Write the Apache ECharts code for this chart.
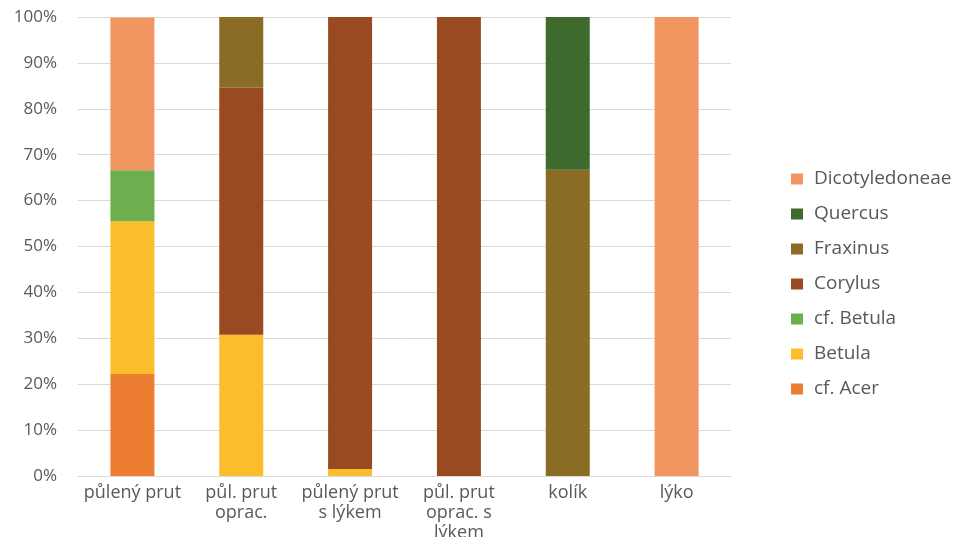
<!DOCTYPE html>
<html>
<head>
<meta charset="utf-8">
<script src="https://cdn.jsdelivr.net/npm/echarts@6/dist/echarts.min.js"></script>
<style>
  html, body { margin: 0; padding: 0; background: #fff; }
  #chart { width: 956px; height: 537px; }
</style>
</head>
<body>
<div id="chart"></div>
<script>
// Artefact types (x axis)
const categories = ['půlený prut', 'půl. prut\noprac.', 'půlený prut\ns lýkem', 'půl. prut\noprac. s\nlýkem', 'kolík', 'lýko'];

// Share of each taxon per artefact type, in percent
const cfAcer         = [22.2, 0,    0,    0,   0,    0];
const betula         = [33.3, 30.8, 1.5,  0,   0,    0];
const cfBetula       = [11.1, 0,    0,    0,   0,    0];
const corylus        = [0,    53.8, 98.5, 100, 0,    0];
const fraxinus       = [0,    15.4, 0,    0,   66.7, 0];
const quercus        = [0,    0,    0,    0,   33.3, 0];
const dicotyledoneae = [33.3, 0,    0,    0,   0,    100];

const yTicks = [0, 10, 20, 30, 40, 50, 60, 70, 80, 90, 100];

const seriesDefs = [
  { name: 'cf. Acer', data: cfAcer, color: '#ED7D31' },
  { name: 'Betula', data: betula, color: '#FBBD2C' },
  { name: 'cf. Betula', data: cfBetula, color: '#6DAE4F' },
  { name: 'Corylus', data: corylus, color: '#9A4A21' },
  { name: 'Fraxinus', data: fraxinus, color: '#8A6C24' },
  { name: 'Quercus', data: quercus, color: '#3E6A2E' },
  { name: 'Dicotyledoneae', data: dicotyledoneae, color: '#F19661' }
];

const textColor = '#595959';
const fontFamily = '"Open Sans", "Noto Sans", sans-serif';

const chart = echarts.init(document.getElementById('chart'));
chart.setOption({
  animation: false,
  backgroundColor: '#ffffff',
  textStyle: { fontFamily: fontFamily },
  grid: { left: 78, right: 225, top: 17, bottom: 61, containLabel: false, outerBoundsMode: 'none' },
  legend: {
    orient: 'vertical',
    left: 786,
    top: 164,
    itemWidth: 12,
    itemHeight: 11,
    itemGap: 15,
    icon: 'rect',
    data: seriesDefs.map(s => s.name).reverse(),
    textStyle: { color: textColor, fontSize: 19, lineHeight: 20, padding: [0, 0, 0, 6], fontFamily: fontFamily }
  },
  xAxis: {
    type: 'category',
    data: categories,
    axisLine: { show: true, lineStyle: { color: '#d9d9d9', width: 1 } },
    axisTick: { show: false },
    axisLabel: {
      color: textColor, fontSize: 18, lineHeight: 20, margin: 7,
      interval: 0, fontFamily: fontFamily
    }
  },
  yAxis: {
    type: 'value',
    min: yTicks[0],
    max: yTicks[yTicks.length - 1],
    interval: 10,
    axisLine: { show: false },
    axisTick: { show: false },
    splitLine: { lineStyle: { color: '#d9d9d9', width: 1 } },
    axisLabel: {
      color: textColor, fontSize: 17, margin: 21, fontFamily: fontFamily,
      formatter: v => v + '%'
    }
  },
  series: seriesDefs.map(s => ({
    name: s.name,
    type: 'bar',
    stack: 'total',
    barWidth: 44,
    data: s.data,
    itemStyle: { color: s.color }
  }))
});
</script>
</body>
</html>
